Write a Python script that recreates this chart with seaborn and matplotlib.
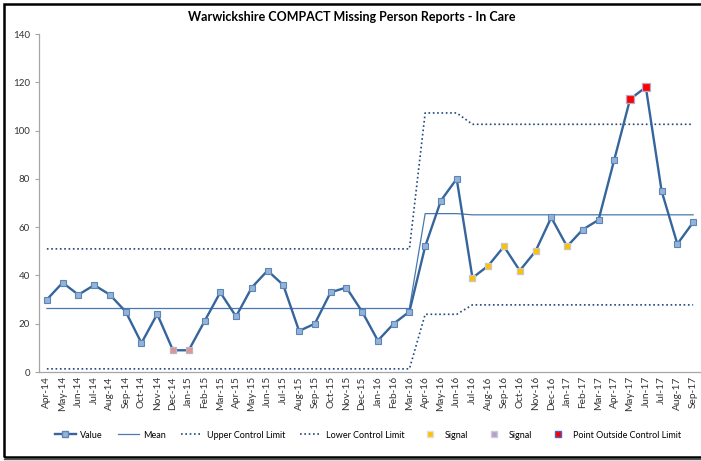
import pandas as pd
import matplotlib.pyplot as plt
import seaborn as sns
from matplotlib.patches import Rectangle
from matplotlib.lines import Line2D

# Mjeseci (kategorije na x osi)
months = ['Apr-14', 'May-14', 'Jun-14', 'Jul-14', 'Aug-14', 'Sep-14', 'Oct-14', 'Nov-14',
          'Dec-14', 'Jan-15', 'Feb-15', 'Mar-15', 'Apr-15', 'May-15', 'Jun-15', 'Jul-15',
          'Aug-15', 'Sep-15', 'Oct-15', 'Nov-15', 'Dec-15', 'Jan-16', 'Feb-16', 'Mar-16',
          'Apr-16', 'May-16', 'Jun-16', 'Jul-16', 'Aug-16', 'Sep-16', 'Oct-16', 'Nov-16',
          'Dec-16', 'Jan-17', 'Feb-17', 'Mar-17', 'Apr-17', 'May-17', 'Jun-17', 'Jul-17',
          'Aug-17', 'Sep-17']

# Broj prijava po mjesecu
values = [30, 37, 32, 36, 32, 25, 12, 24, 9, 9, 21, 33, 23, 35, 42, 36, 17, 20, 33, 35,
          25, 13, 20, 25, 52, 71, 80, 39, 44, 52, 42, 50, 64, 52, 59, 63, 88, 113, 118, 75,
          53, 62]

# Srednja vrijednost i kontrolne granice
mean = [26.3] * 24 + [65.6] * 3 + [65.1] * 15
upper = [51.0] * 24 + [107.3] * 3 + [102.6] * 15
lower = [1.3] * 24 + [23.9] * 3 + [27.8] * 15

# Signali
signal_orange = ['Jul-16', 'Aug-16', 'Sep-16', 'Oct-16', 'Nov-16', 'Jan-17']
signal_grey = ['Dec-14', 'Jan-15']
outside = ['May-17', 'Jun-17']

df = pd.DataFrame({'month': months, 'value': values, 'mean': mean,
                   'upper': upper, 'lower': lower})
df['x'] = range(len(df))

plt.rcParams['font.family'] = ['Lato', 'DejaVu Sans']

fig = plt.figure(figsize=(7.01, 4.61), dpi=100)
ax = fig.add_axes([39 / 701, 89 / 461, 662 / 701, 338 / 461])

line_col = '#35659C'
limit_col = '#1F497D'

sns.lineplot(data=df, x='x', y='value', ax=ax, color=line_col, lw=1.7, marker='s',
             markersize=4.5, markerfacecolor='#95B3D7', markeredgecolor='#5B84B8',
             markeredgewidth=0.8, label='Value', zorder=4)
sns.lineplot(data=df, x='x', y='mean', ax=ax, color='#4A78B0', lw=0.9, label='Mean', zorder=3)
sns.lineplot(data=df, x='x', y='upper', ax=ax, color=limit_col, lw=1.2,
             label='Upper Control Limit', zorder=2)
sns.lineplot(data=df, x='x', y='lower', ax=ax, color=limit_col, lw=1.2,
             label='Lower Control Limit', zorder=2)
for ln in ax.get_lines()[2:4]:
    ln.set_linestyle((0, (1, 1.6)))

s1 = df[df['month'].isin(signal_orange)]
s2 = df[df['month'].isin(signal_grey)]
s3 = df[df['month'].isin(outside)]
sns.scatterplot(data=s1, x='x', y='value', ax=ax, marker='s', s=22, color='#FFC000',
                edgecolor='#C8C8C8', linewidth=0.8, label='Signal', zorder=5)
sns.scatterplot(data=s2, x='x', y='value', ax=ax, marker='s', s=22, color='#D99694',
                edgecolor='#BFB3CC', linewidth=0.8, label='Signal', zorder=5)
sns.scatterplot(data=s3, x='x', y='value', ax=ax, marker='s', s=30, color='#FF0000',
                edgecolor='#B8A9C9', linewidth=0.9, label='Point Outside Control Limit', zorder=5)

ax.set_xlim(-0.5, 41.5)
ax.set_ylim(0, 140)
ax.set_yticks(range(0, 141, 20))
ax.set_xticks(df['x'])
ax.set_xticklabels(months, rotation=90, fontsize=7.3, color='#333333')
ax.tick_params(axis='y', labelsize=7, labelcolor='#333333', length=3, color='#A6A6A6')
ax.tick_params(axis='x', length=0, pad=3)
ax.set_xlabel('')
ax.set_ylabel('')
for side in ['top', 'right']:
    ax.spines[side].set_visible(False)
for side in ['left', 'bottom']:
    ax.spines[side].set_color('#A6A6A6')
    ax.spines[side].set_linewidth(0.9)

# Legenda
handles, labels = ax.get_legend_handles_labels()
leg_handles = [
    Line2D([], [], color=line_col, lw=1.7, marker='s', markersize=4.5,
           markerfacecolor='#95B3D7', markeredgecolor='#5B84B8'),
    Line2D([], [], color='#4A78B0', lw=0.9),
    Line2D([], [], color=limit_col, lw=1.2, linestyle=(0, (1, 1.6))),
    Line2D([], [], color=limit_col, lw=1.2, linestyle=(0, (1, 1.6))),
    Line2D([], [], ls='', marker='s', markersize=4, markerfacecolor='#FFC000',
           markeredgecolor='#E0E0E0'),
    Line2D([], [], ls='', marker='s', markersize=4, markerfacecolor='#B3A2C7',
           markeredgecolor='#D0C8DC'),
    Line2D([], [], ls='', marker='s', markersize=4, markerfacecolor='#FF0000',
           markeredgecolor='#5060C0'),
]
fig.legend(leg_handles, labels, loc='center', bbox_to_anchor=(368 / 701, 1 - 435 / 461),
           ncol=7, frameon=False, fontsize=6.5, handlelength=2.3, columnspacing=1.7,
           handletextpad=0.5)
ax.get_legend().remove()

fig.suptitle('Warwickshire COMPACT Missing Person Reports - In Care', fontsize=9,
             fontweight='bold', x=352 / 701, y=1 - 17 / 461, va='center')

# Okvir oko grafika
fig.add_artist(Rectangle((4 / 701, 4 / 461), 710 / 701, 453 / 461, transform=fig.transFigure,
                         fill=False, lw=1.8, edgecolor='black'))
fig.add_artist(Line2D([4 / 701, 1.02], [2 / 461, 2 / 461], transform=fig.transFigure,
                      color='#555555', lw=1.0))

plt.savefig('out.png', dpi=100)
